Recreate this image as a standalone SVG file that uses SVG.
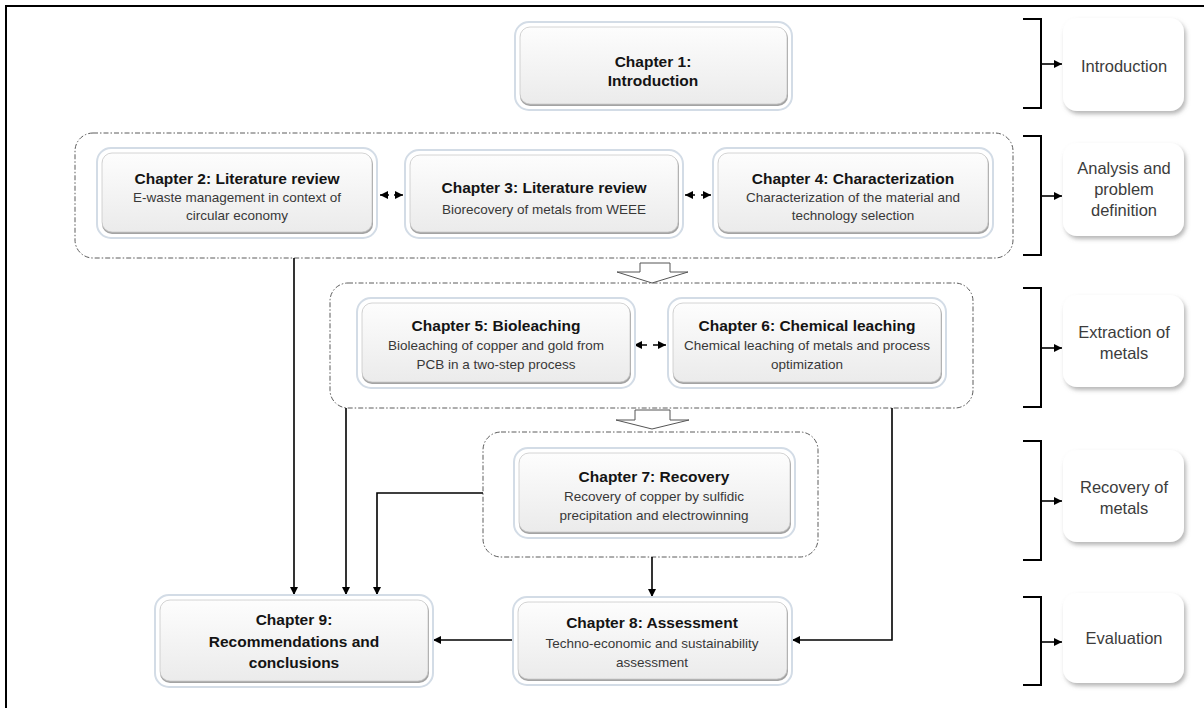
<svg xmlns="http://www.w3.org/2000/svg" width="1204" height="708" viewBox="0 0 1204 708">
<style>
.frame{fill:none;stroke:#000;stroke-width:2}
.grp{fill:none;stroke:#5c5c5c;stroke-width:1;stroke-dasharray:5 2 1.5 2}
.halo{fill:#fff;stroke:#d3dce6;stroke-width:2}
.sh{fill:#a3a3a3}
.in{fill:url(#gIn);stroke:#c9c9c9;stroke-width:0.8}
.lab-box{fill:#fff;filter:url(#ds)}
.ln{fill:none;stroke:#000;stroke-width:1.6}
.dl{fill:none;stroke:#000;stroke-width:1.6}
.hollow{fill:#fff;stroke:#555;stroke-width:1}
.br{fill:none;stroke:#000;stroke-width:2}
.t{font-family:"Liberation Sans",Arial,sans-serif;text-anchor:middle}
.tb{font-weight:bold;font-size:15.5px;fill:#141414}
.ts{font-size:13.5px;fill:#383838}
.lab{font-size:16.5px;fill:#3c3c3c}
</style>
<defs>
<linearGradient id="gIn" x1="0" y1="0" x2="0" y2="1">
<stop offset="0" stop-color="#fdfdfd"/>
<stop offset="1" stop-color="#ebebeb"/>
</linearGradient>
<filter id="ds" x="-20%" y="-20%" width="140%" height="140%">
<feDropShadow dx="2" dy="3" stdDeviation="2.2" flood-color="#7a7a7a" flood-opacity="0.55"/>
</filter>
<marker id="ah" viewBox="0 0 10 10" refX="10" refY="5" markerWidth="8" markerHeight="8" markerUnits="userSpaceOnUse" orient="auto-start-reverse">
<path d="M0,0 L10,5 L0,10 z" fill="#000"/>
</marker>
</defs>

<rect class="frame" x="6" y="6" width="1220" height="720"/>

<!-- group frames -->
<g id="groups">
<rect id="group1" class="grp" x="75" y="133" width="938" height="125" rx="18"/>
<rect id="group2" class="grp" x="330" y="283" width="643" height="125" rx="18"/>
<rect id="group3" class="grp" x="483" y="432" width="335" height="125" rx="18"/>
</g>

<!-- connectors -->
<g id="connectors">
<path class="hollow" d="M640,263 H670 V272 H688 L652,283 L617,272 H640 Z"/>
<path class="hollow" d="M635,410 H670 V420 H689 L652,429 L616,420 H635 Z"/>
<line class="dl" x1="380" y1="195" x2="403" y2="195" stroke-dasharray="9 5" marker-start="url(#ah)" marker-end="url(#ah)"/>
<line class="dl" x1="685" y1="195" x2="711" y2="195" stroke-dasharray="10 6" marker-start="url(#ah)" marker-end="url(#ah)"/>
<line class="dl" x1="634" y1="345" x2="666" y2="345" stroke-dasharray="13 6" marker-start="url(#ah)" marker-end="url(#ah)"/>
<path class="ln" d="M294,258 V595" marker-end="url(#ah)"/>
<path class="ln" d="M346,408 V595" marker-end="url(#ah)"/>
<path class="ln" d="M483,493 H377 V595" marker-end="url(#ah)"/>
<path class="ln" d="M652,557 V597" marker-end="url(#ah)"/>
<path class="ln" d="M513,640 H433" marker-end="url(#ah)"/>
<path class="ln" d="M892,408 V640 H792" marker-end="url(#ah)"/>
<path class="br" d="M1023,19 H1041 V108 H1023"/>
<path class="br" d="M1023,136 H1041 V255 H1023"/>
<path class="br" d="M1023,288 H1041 V407 H1023"/>
<path class="br" d="M1023,441 H1041 V560 H1023"/>
<path class="br" d="M1023,597 H1041 V685 H1023"/>
<path class="ln" d="M1042,64 H1062" marker-end="url(#ah)"/>
<path class="ln" d="M1042,196 H1062" marker-end="url(#ah)"/>
<path class="ln" d="M1042,348 H1062" marker-end="url(#ah)"/>
<path class="ln" d="M1042,501 H1062" marker-end="url(#ah)"/>
<path class="ln" d="M1042,642 H1062" marker-end="url(#ah)"/>
</g>

<!-- chapter nodes -->
<g id="ch1">
<rect class="halo" x="515" y="22" width="277" height="88" rx="14"/>
<rect class="sh" x="520" y="28" width="268" height="78" rx="10"/>
<rect class="in" x="520" y="27" width="267" height="77" rx="10"/>
<text class="t tb" x="653" y="67">Chapter 1:</text>
<text class="t tb" x="653" y="86">Introduction</text>
</g>
<g id="ch2">
<rect class="halo" x="97" y="148" width="280" height="90" rx="14"/>
<rect class="sh" x="102" y="154" width="271" height="80" rx="10"/>
<rect class="in" x="102" y="153" width="270" height="79" rx="10"/>
<text class="t tb" x="237" y="184">Chapter 2: Literature review</text>
<text class="t ts" x="237" y="202">E-waste management in context of</text>
<text class="t ts" x="237" y="220">circular economy</text>
</g>
<g id="ch3">
<rect class="halo" x="405" y="150" width="278" height="88" rx="14"/>
<rect class="sh" x="410" y="156" width="269" height="78" rx="10"/>
<rect class="in" x="410" y="155" width="268" height="77" rx="10"/>
<text class="t tb" x="544" y="193">Chapter 3: Literature review</text>
<text class="t ts" x="544" y="214">Biorecovery of metals from WEEE</text>
</g>
<g id="ch4">
<rect class="halo" x="713" y="148" width="280" height="90" rx="14"/>
<rect class="sh" x="718" y="154" width="271" height="80" rx="10"/>
<rect class="in" x="718" y="153" width="270" height="79" rx="10"/>
<text class="t tb" x="853" y="184">Chapter 4: Characterization</text>
<text class="t ts" x="853" y="202">Characterization of the material and</text>
<text class="t ts" x="853" y="220">technology selection</text>
</g>
<g id="ch5">
<rect class="halo" x="357" y="298" width="278" height="90" rx="14"/>
<rect class="sh" x="362" y="304" width="269" height="80" rx="10"/>
<rect class="in" x="362" y="303" width="268" height="79" rx="10"/>
<text class="t tb" x="496" y="331">Chapter 5: Bioleaching</text>
<text class="t ts" x="496" y="350">Bioleaching of copper and gold from</text>
<text class="t ts" x="496" y="369">PCB in a two-step process</text>
</g>
<g id="ch6">
<rect class="halo" x="668" y="298" width="278" height="90" rx="14"/>
<rect class="sh" x="673" y="304" width="269" height="80" rx="10"/>
<rect class="in" x="673" y="303" width="268" height="79" rx="10"/>
<text class="t tb" x="807" y="331">Chapter 6: Chemical leaching</text>
<text class="t ts" x="807" y="350">Chemical leaching of metals and process</text>
<text class="t ts" x="807" y="369">optimization</text>
</g>
<g id="ch7">
<rect class="halo" x="514" y="448" width="281" height="90" rx="14"/>
<rect class="sh" x="519" y="454" width="272" height="80" rx="10"/>
<rect class="in" x="519" y="453" width="271" height="79" rx="10"/>
<text class="t tb" x="654" y="482">Chapter 7: Recovery</text>
<text class="t ts" x="654" y="501">Recovery of copper by sulfidic</text>
<text class="t ts" x="654" y="520">precipitation and electrowinning</text>
</g>
<g id="ch8">
<rect class="halo" x="513" y="597" width="279" height="88" rx="14"/>
<rect class="sh" x="518" y="603" width="270" height="78" rx="10"/>
<rect class="in" x="518" y="602" width="269" height="77" rx="10"/>
<text class="t tb" x="652" y="628">Chapter 8: Assessment</text>
<text class="t ts" x="652" y="648">Techno-economic and sustainability</text>
<text class="t ts" x="652" y="667">assessment</text>
</g>
<g id="ch9">
<rect class="halo" x="155" y="595" width="278" height="92" rx="14"/>
<rect class="sh" x="160" y="601" width="269" height="82" rx="10"/>
<rect class="in" x="160" y="600" width="268" height="81" rx="10"/>
<text class="t tb" x="294" y="625">Chapter 9:</text>
<text class="t tb" x="294" y="647">Recommendations and</text>
<text class="t tb" x="294" y="668">conclusions</text>
</g>

<!-- phase labels -->
<g id="lab1">
<rect class="lab-box" x="1063" y="18" width="121" height="93" rx="14"/>
<text class="t lab" x="1124" y="72">Introduction</text>
</g>
<g id="lab2">
<rect class="lab-box" x="1063" y="143" width="121" height="93" rx="14"/>
<text class="t lab" x="1124" y="174">Analysis and</text>
<text class="t lab" x="1124" y="195">problem</text>
<text class="t lab" x="1124" y="216">definition</text>
</g>
<g id="lab3">
<rect class="lab-box" x="1063" y="295" width="121" height="92" rx="14"/>
<text class="t lab" x="1124" y="338">Extraction of</text>
<text class="t lab" x="1124" y="359">metals</text>
</g>
<g id="lab4">
<rect class="lab-box" x="1063" y="450" width="121" height="92" rx="14"/>
<text class="t lab" x="1124" y="493">Recovery of</text>
<text class="t lab" x="1124" y="514">metals</text>
</g>
<g id="lab5">
<rect class="lab-box" x="1063" y="593" width="121" height="90" rx="14"/>
<text class="t lab" x="1124" y="644">Evaluation</text>
</g>
</svg>
